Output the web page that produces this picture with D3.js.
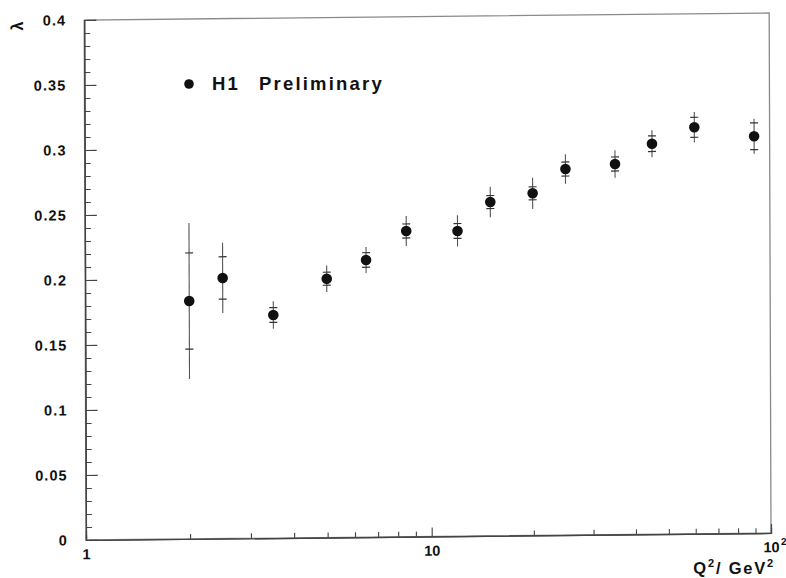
<!DOCTYPE html>
<html>
<head>
<meta charset="utf-8">
<script src="https://cdn.jsdelivr.net/npm/d3@7"></script>
<style>
  html, body { margin: 0; padding: 0; background: #fff; }
  svg { display: block; }
  text { font-family: "Liberation Sans", Arial, Helvetica, sans-serif; font-weight: bold; fill: #111; }
</style>
</head>
<body>
<svg id="chart" width="786" height="578"></svg>
<script>
// ---- data ----
const q2      = [2.0, 2.5, 3.5, 5.0, 6.5, 8.5, 12, 15, 20, 25, 35, 45, 60, 90];
const lambda  = [0.183, 0.2005, 0.1716, 0.1991, 0.2132, 0.2352, 0.2348, 0.2568, 0.2632, 0.2816, 0.2851, 0.3004, 0.3127, 0.3053];
const statErr = [0.037, 0.0163, 0.0057, 0.005, 0.0056, 0.0054, 0.0057, 0.005, 0.005, 0.0054, 0.0054, 0.006, 0.0077, 0.0103];
const totErr  = [0.060, 0.027, 0.0105, 0.0102, 0.010, 0.0116, 0.012, 0.0118, 0.012, 0.0113, 0.0106, 0.0104, 0.0117, 0.0135];

const xMajorTicks  = [1, 10, 100];
const xMajorLabels = ["1", "10", "10"];
const xMinorTicks  = [2, 3, 4, 5, 6, 7, 8, 9, 20, 30, 40, 50, 60, 70, 80, 90];
const yMajorTicks  = [0, 0.05, 0.1, 0.15, 0.2, 0.25, 0.3, 0.35, 0.4];
const yTickLabels  = ["0", "0.05", "0.1", "0.15", "0.2", "0.25", "0.3", "0.35", "0.4"];
const yMinorTicks  = d3.range(0, 41).map(i => i / 100).filter(v => Math.round(v * 100) % 5 !== 0);
const legendLabel  = ["H1", "Preliminary"];
const yAxisTitle   = "λ";

// ---- layout ----
const svg = d3.select("#chart");
const W = 685, H = 520;
const g = svg.append("g").attr("transform", "translate(86,540) skewY(-0.585) skewX(0.2)");

// slightly non-uniform log scale (matches the scanned original)
const x = d3.scaleLog().domain([1, 10, 100]).range([0, 345.7, W]);
const y = d3.scaleLinear().domain([0, 0.4]).range([0, -H]);

// frame
g.append("rect").attr("x", 0).attr("y", -H).attr("width", W).attr("height", H)
  .attr("fill", "none").attr("stroke", "#8a8a8a").attr("stroke-width", 1.3);

// y axis
const yMinor = d3.axisLeft(y).tickValues(yMinorTicks).tickSize(-6).tickFormat("");
const yMajor = d3.axisLeft(y).tickValues(yMajorTicks).tickSize(-12).tickPadding(18)
  .tickFormat((d, i) => yTickLabels[i]);
const gy1 = g.append("g").call(yMinor);
const gy2 = g.append("g").call(yMajor);
[gy1, gy2].forEach(a => {
  a.select(".domain").attr("stroke", "#444").attr("stroke-width", 1.2);
  a.selectAll(".tick line").attr("stroke", "#444").attr("stroke-width", 1.1);
});
gy2.selectAll(".tick text").attr("font-size", 14.5).attr("letter-spacing", 1.1)
  .attr("font-family", "Liberation Sans, Arial, sans-serif").attr("font-weight", "bold").attr("fill", "#111");

// x axis
const xMinor = d3.axisBottom(x).tickValues(xMinorTicks).tickSize(-5).tickFormat("");
const xMajor = d3.axisBottom(x).tickValues(xMajorTicks).tickSize(-9).tickPadding(9)
  .tickFormat((d, i) => xMajorLabels[i]);
const gx1 = g.append("g").call(xMinor);
const gx2 = g.append("g").call(xMajor);
[gx1, gx2].forEach(a => {
  a.select(".domain").attr("stroke", "#444").attr("stroke-width", 1.2);
  a.selectAll(".tick line").attr("stroke", "#444").attr("stroke-width", 1.1);
});
gx2.selectAll(".tick text").attr("font-size", 14.5)
  .attr("font-family", "Liberation Sans, Arial, sans-serif").attr("font-weight", "bold").attr("fill", "#111");
// exponent of 10^2
g.append("text").attr("x", x(100) + 10).attr("y", 12).attr("font-size", 10).text("2");

// axis titles
const xt = svg.append("text").attr("x", 775).attr("y", 574).attr("text-anchor", "end")
  .attr("font-size", 16.5).attr("letter-spacing", 1.8);
xt.append("tspan").text("Q");
xt.append("tspan").attr("dy", -7).attr("font-size", 11).text("2");
xt.append("tspan").attr("dy", 7).text("/ GeV");
xt.append("tspan").attr("dy", -7).attr("font-size", 11).text("2");

svg.append("text").attr("transform", "translate(23,26) rotate(-90)")
  .attr("text-anchor", "middle").attr("font-size", 16).text(yAxisTitle);

// data
const pts = q2.map((q, i) => ({ q, v: lambda[i], s: statErr[i], t: totErr[i] }));
const mark = g.append("g");
mark.selectAll("line.tot").data(pts).join("line").attr("class", "tot")
  .attr("x1", d => x(d.q)).attr("x2", d => x(d.q))
  .attr("y1", d => y(d.v - d.t)).attr("y2", d => y(d.v + d.t))
  .attr("stroke", "#555").attr("stroke-width", 1.1);
["lo", "hi"].forEach(side => {
  mark.selectAll("line.stat" + side).data(pts).join("line").attr("class", "stat" + side)
    .attr("x1", d => x(d.q) - 4).attr("x2", d => x(d.q) + 4)
    .attr("y1", d => y(side === "lo" ? d.v - d.s : d.v + d.s))
    .attr("y2", d => y(side === "lo" ? d.v - d.s : d.v + d.s))
    .attr("stroke", "#333").attr("stroke-width", 1.2);
});
mark.selectAll("circle").data(pts).join("circle")
  .attr("cx", d => x(d.q)).attr("cy", d => y(d.v)).attr("r", 5.3).attr("fill", "#111");

// legend
svg.append("circle").attr("cx", 189).attr("cy", 84).attr("r", 4.8).attr("fill", "#111");
svg.append("text").attr("x", 212).attr("y", 90).attr("font-size", 18.5).attr("letter-spacing", 2.2).text(legendLabel[0]);
svg.append("text").attr("x", 259).attr("y", 90).attr("font-size", 18.5).attr("letter-spacing", 2.2).text(legendLabel[1]);
</script>
</body>
</html>
